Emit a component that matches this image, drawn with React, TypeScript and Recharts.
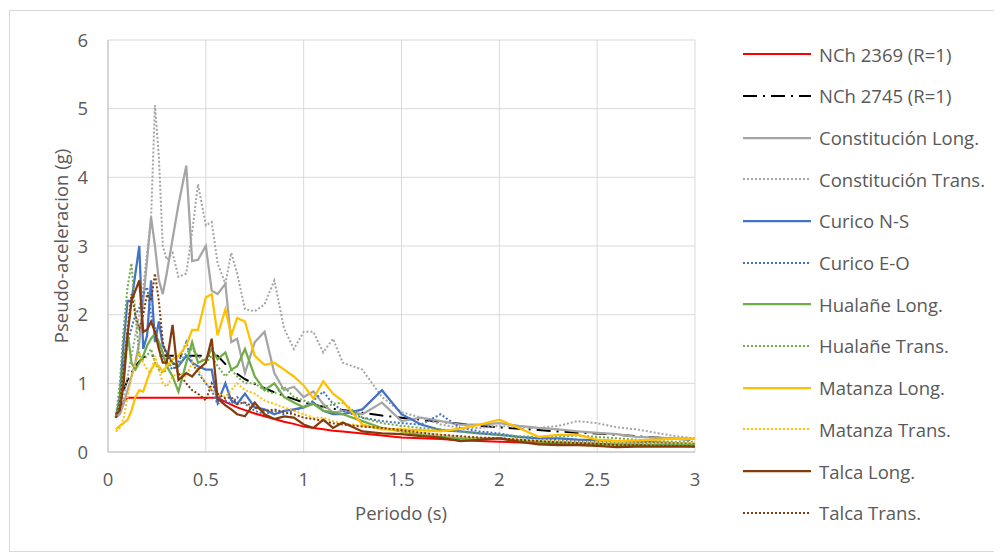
import { LineChart, Line, XAxis, YAxis, CartesianGrid } from "recharts";

// Periodo (s)
const periods = [
  0.04, 0.06, 0.08, 0.1, 0.12, 0.14, 0.16, 0.18, 0.2, 0.22,
  0.24, 0.26, 0.28, 0.3, 0.33, 0.36, 0.4, 0.43, 0.46, 0.5,
  0.53, 0.56, 0.6, 0.63, 0.66, 0.7, 0.75, 0.8, 0.85, 0.9,
  0.95, 1.0, 1.05, 1.1, 1.15, 1.2, 1.3, 1.4, 1.5, 1.6,
  1.7, 1.8, 1.9, 2.0, 2.1, 2.2, 2.3, 2.4, 2.5, 2.6,
  2.7, 2.8, 2.9, 3.0,
];

const nch2369 = [
  0.5, 0.62, 0.74, 0.79, 0.79, 0.79, 0.79, 0.79, 0.79, 0.79,
  0.79, 0.79, 0.79, 0.79, 0.79, 0.79, 0.79, 0.79, 0.79, 0.79,
  0.79, 0.79, 0.73, 0.69, 0.65, 0.61, 0.56, 0.52, 0.48, 0.44,
  0.41, 0.37, 0.35, 0.33, 0.31, 0.3, 0.27, 0.24, 0.21, 0.2,
  0.19, 0.17, 0.16, 0.15, 0.14, 0.135, 0.13, 0.12, 0.115, 0.11,
  0.105, 0.1, 0.095, 0.09,
];

const nch2745 = [
  0.5, 0.7, 0.9, 1.05, 1.15, 1.25, 1.32, 1.38, 1.4, 1.4,
  1.4, 1.4, 1.4, 1.4, 1.4, 1.4, 1.4, 1.4, 1.4, 1.4,
  1.4, 1.4, 1.28, 1.2, 1.14, 1.06, 0.99, 0.93, 0.87, 0.82,
  0.77, 0.72, 0.69, 0.66, 0.63, 0.61, 0.57, 0.53, 0.5, 0.47,
  0.44, 0.41, 0.38, 0.36, 0.34, 0.32, 0.3, 0.28, 0.27, 0.25,
  0.23, 0.21, 0.19, 0.18,
];

const constLong = [
  0.5, 0.55, 0.7, 0.9, 1.1, 1.3, 1.6, 2.2, 2.8, 3.42,
  3.0, 2.5, 2.3, 2.6, 3.1, 3.6, 4.17, 2.78, 2.8, 3.0,
  2.35, 2.3, 2.45, 1.6, 1.65, 1.15, 1.6, 1.75, 1.15, 0.9,
  0.95, 0.8, 0.88, 0.7, 0.57, 0.6, 0.55, 0.72, 0.45, 0.5,
  0.45, 0.4, 0.4, 0.42, 0.38, 0.35, 0.33, 0.3, 0.28, 0.26,
  0.22, 0.21, 0.2, 0.19,
];

const constTrans = [
  0.5, 0.6, 0.8, 1.1, 1.4, 1.7, 2.0, 2.4, 2.9, 3.4,
  5.05, 4.3, 3.0, 2.8, 2.9, 2.55, 2.6, 3.2, 3.9, 3.3,
  3.35, 2.75, 2.45, 2.9, 2.6, 2.08, 2.05, 2.15, 2.5, 1.8,
  1.5, 1.75, 1.75, 1.45, 1.65, 1.3, 1.2, 0.8, 0.58, 0.5,
  0.4, 0.35, 0.35, 0.38, 0.36, 0.35, 0.38, 0.45, 0.42, 0.36,
  0.33, 0.28, 0.23, 0.2,
];

const curicoNS = [
  0.5, 0.8, 1.6, 2.2, 2.2, 2.6, 3.0, 1.5, 1.7, 2.5,
  1.6, 1.9, 1.55, 1.45, 1.3, 1.25, 1.4, 1.3, 1.25, 1.2,
  1.2, 0.72, 1.0, 0.75, 0.7, 0.85, 0.65, 0.62, 0.55, 0.6,
  0.62, 0.65, 0.72, 0.6, 0.55, 0.55, 0.62, 0.9, 0.55, 0.4,
  0.32, 0.3, 0.27, 0.25, 0.22, 0.2, 0.2, 0.18, 0.17, 0.16,
  0.15, 0.14, 0.13, 0.12,
];

const curicoEO = [
  0.5, 0.7, 1.2, 1.6, 1.8, 2.0, 2.1, 2.3, 2.4, 2.0,
  1.8, 1.6, 1.4, 1.3, 1.2, 1.3, 1.6, 1.3, 1.15, 1.0,
  0.9, 0.7, 0.75, 0.7, 0.8, 0.7, 0.6, 0.55, 0.6, 0.55,
  0.6, 0.65, 0.75, 0.88, 0.7, 0.6, 0.5, 0.45, 0.42, 0.4,
  0.55, 0.35, 0.3, 0.27, 0.22, 0.2, 0.17, 0.16, 0.15, 0.14,
  0.13, 0.12, 0.12, 0.11,
];

const hualaneLong = [
  0.5, 0.7, 1.2, 1.75, 1.3, 1.2, 1.3, 1.4, 1.55, 1.65,
  1.72, 1.6, 1.45, 1.25, 1.1, 0.88, 1.3, 1.6, 1.3, 1.35,
  1.5, 1.35, 1.45, 1.2, 1.25, 1.5, 1.1, 0.9, 1.0, 0.8,
  0.72, 0.65, 0.7, 0.6, 0.58, 0.55, 0.45, 0.35, 0.3, 0.25,
  0.22, 0.2, 0.2, 0.2, 0.17, 0.15, 0.14, 0.13, 0.12, 0.12,
  0.11, 0.1, 0.1, 0.1,
];

const hualaneTrans = [
  0.5, 1.0, 1.8, 2.4, 2.75, 2.0, 1.4, 1.35, 1.4, 1.5,
  1.3, 1.2, 1.15, 1.2, 1.3, 1.25, 1.45, 1.5, 1.4, 1.3,
  1.4, 1.25, 1.1, 1.2, 1.1, 1.0, 1.0, 0.9, 0.85, 0.95,
  0.8, 0.75, 0.7, 0.65, 0.7, 0.72, 0.5, 0.42, 0.38, 0.35,
  0.33, 0.3, 0.27, 0.25, 0.23, 0.22, 0.22, 0.24, 0.22, 0.2,
  0.18, 0.16, 0.15, 0.15,
];

const matanzaLong = [
  0.33, 0.38, 0.42, 0.47, 0.6, 0.8, 0.9, 0.88, 1.05, 1.2,
  1.28, 1.25, 1.17, 1.25, 1.35, 1.4, 1.55, 1.78, 1.78, 2.25,
  2.3, 1.7, 2.08, 1.7, 1.95, 1.9, 1.4, 1.27, 1.3, 1.2,
  1.1, 0.97, 0.78, 1.03, 0.85, 0.74, 0.4, 0.33, 0.33, 0.32,
  0.3, 0.34, 0.4, 0.47, 0.35, 0.22, 0.25, 0.25, 0.18, 0.16,
  0.17, 0.18, 0.19, 0.19,
];

const matanzaTrans = [
  0.3, 0.35, 0.5, 0.8, 1.1, 1.3, 1.45, 1.3, 1.2, 1.15,
  1.4, 1.2, 1.0, 0.95, 1.1, 1.15, 1.1, 1.3, 1.2, 1.0,
  0.9, 0.85, 0.8, 0.9, 1.0, 0.9, 0.85, 0.75, 0.7, 0.65,
  0.6, 0.55, 0.5, 0.5, 0.45, 0.42, 0.38, 0.35, 0.3, 0.28,
  0.25, 0.22, 0.2, 0.2, 0.18, 0.17, 0.16, 0.15, 0.15, 0.14,
  0.14, 0.13, 0.13, 0.13,
];

const talcaLong = [
  0.55, 0.6, 1.0, 1.7, 2.2, 2.35, 2.5, 1.75, 1.78, 1.9,
  1.75, 1.5, 1.3, 1.3, 1.85, 1.05, 1.15, 1.1, 1.2, 1.3,
  1.65, 0.78, 0.68, 0.62, 0.55, 0.52, 0.72, 0.55, 0.48, 0.52,
  0.5, 0.4, 0.35, 0.47, 0.35, 0.43, 0.3, 0.27, 0.26, 0.23,
  0.21, 0.16, 0.18, 0.2, 0.15, 0.11, 0.1, 0.1, 0.09, 0.07,
  0.08, 0.08, 0.08, 0.08,
];

const talcaTrans = [
  0.5, 0.7, 1.2, 1.8, 2.3, 2.0, 1.8, 2.0, 2.3, 2.2,
  2.6, 2.2, 1.6, 1.4, 1.3, 1.15, 1.0, 0.9, 0.85, 0.75,
  1.0, 0.85, 0.78, 0.8, 0.7, 0.72, 0.65, 0.6, 0.62, 0.58,
  0.55, 0.5, 0.48, 0.45, 0.42, 0.4, 0.37, 0.35, 0.32, 0.28,
  0.25, 0.23, 0.21, 0.2, 0.18, 0.16, 0.14, 0.13, 0.12, 0.1,
  0.1, 0.09, 0.09, 0.08,
];

const xTicks = [0, 0.5, 1, 1.5, 2, 2.5, 3];
const yTicks = [0, 1, 2, 3, 4, 5, 6];

const DOT = "2 2";
const DASH_DOT = "14 6 2 6";

const series = [
  { key: "nch2369", name: "NCh 2369 (R=1)", values: nch2369, color: "#ff0000", width: 2, dash: undefined },
  { key: "nch2745", name: "NCh 2745 (R=1)", values: nch2745, color: "#000000", width: 2, dash: DASH_DOT },
  { key: "constLong", name: "Constitución Long.", values: constLong, color: "#a5a5a5", width: 2.25, dash: undefined },
  { key: "constTrans", name: "Constitución Trans.", values: constTrans, color: "#a5a5a5", width: 2, dash: DOT },
  { key: "curicoNS", name: "Curico N-S", values: curicoNS, color: "#4472c4", width: 2.25, dash: undefined },
  { key: "curicoEO", name: "Curico E-O", values: curicoEO, color: "#4472c4", width: 2, dash: DOT },
  { key: "hualaneLong", name: "Hualañe Long.", values: hualaneLong, color: "#70ad47", width: 2.25, dash: undefined },
  { key: "hualaneTrans", name: "Hualañe Trans.", values: hualaneTrans, color: "#70ad47", width: 2, dash: DOT },
  { key: "matanzaLong", name: "Matanza Long.", values: matanzaLong, color: "#ffc000", width: 2.25, dash: undefined },
  { key: "matanzaTrans", name: "Matanza Trans.", values: matanzaTrans, color: "#ffc000", width: 2, dash: DOT },
  { key: "talcaLong", name: "Talca Long.", values: talcaLong, color: "#843c0c", width: 2.25, dash: undefined },
  { key: "talcaTrans", name: "Talca Trans.", values: talcaTrans, color: "#843c0c", width: 2, dash: DOT },
];

const data = periods.map((p, i) => {
  const row: Record<string, number> = { periodo: p };
  series.forEach((s) => {
    row[s.key] = s.values[i];
  });
  return row;
});

const FONT = "'Open Sans', sans-serif";
const TEXT = "#595959";
const FS = 18.5;

export default function App() {
  return (
    <div style={{ position: "relative", width: 994, height: 544, fontFamily: FONT }}>
      <div
        style={{
          position: "absolute",
          left: 1,
          top: 2,
          width: 992,
          height: 542,
          border: "1px solid #d9d9d9",
          boxSizing: "border-box",
        }}
      />
      <div style={{ position: "absolute", left: 0, top: 0 }}>
        <LineChart
          width={994}
          height={544}
          data={data}
          margin={{ top: 32, right: 307, bottom: 70, left: 0 }}
        >
          <CartesianGrid stroke="#d9d9d9" strokeWidth={1} />
          <XAxis
            dataKey="periodo"
            type="number"
            domain={[0, 3]}
            ticks={xTicks}
            height={30}
            stroke="#bfbfbf"
            tickLine={false}
            tickMargin={15}
            tick={{ fill: TEXT, fontSize: FS, fontFamily: FONT }}
          />
          <YAxis
            type="number"
            domain={[0, 6]}
            ticks={yTicks}
            width={100}
            stroke="#bfbfbf"
            tickLine={false}
            tickMargin={14}
            tick={{ fill: TEXT, fontSize: FS, fontFamily: FONT }}
          />
          {series.map((s) => (
            <Line
              key={s.key}
              dataKey={s.key}
              name={s.name}
              type="linear"
              stroke={s.color}
              strokeWidth={s.width}
              strokeDasharray={s.dash}
              dot={false}
              activeDot={false}
              isAnimationActive={false}
            />
          ))}
        </LineChart>
      </div>
      <div
        style={{
          position: "absolute",
          left: 52,
          top: 238,
          transform: "translate(-50%, -50%) rotate(-90deg)",
          color: TEXT,
          fontSize: FS,
          whiteSpace: "nowrap",
        }}
      >
        Pseudo-aceleracion (g)
      </div>
      <div
        style={{
          position: "absolute",
          left: 393,
          top: 504,
          transform: "translate(-50%, -50%)",
          color: TEXT,
          fontSize: FS,
          whiteSpace: "nowrap",
        }}
      >
        Periodo (s)
      </div>
      {series.map((s, i) => (
        <div
          key={s.key}
          style={{
            position: "absolute",
            left: 735,
            top: 46.3 + i * 41.67 - 14,
            height: 28,
            display: "flex",
            alignItems: "center",
          }}
        >
          <svg width={70} height={10}>
            <line
              x1={0}
              y1={5}
              x2={68}
              y2={5}
              stroke={s.color}
              strokeWidth={s.width}
              strokeDasharray={s.dash}
            />
          </svg>
          <span style={{ marginLeft: 6, color: TEXT, fontSize: FS, whiteSpace: "nowrap" }}>{s.name}</span>
        </div>
      ))}
    </div>
  );
}
